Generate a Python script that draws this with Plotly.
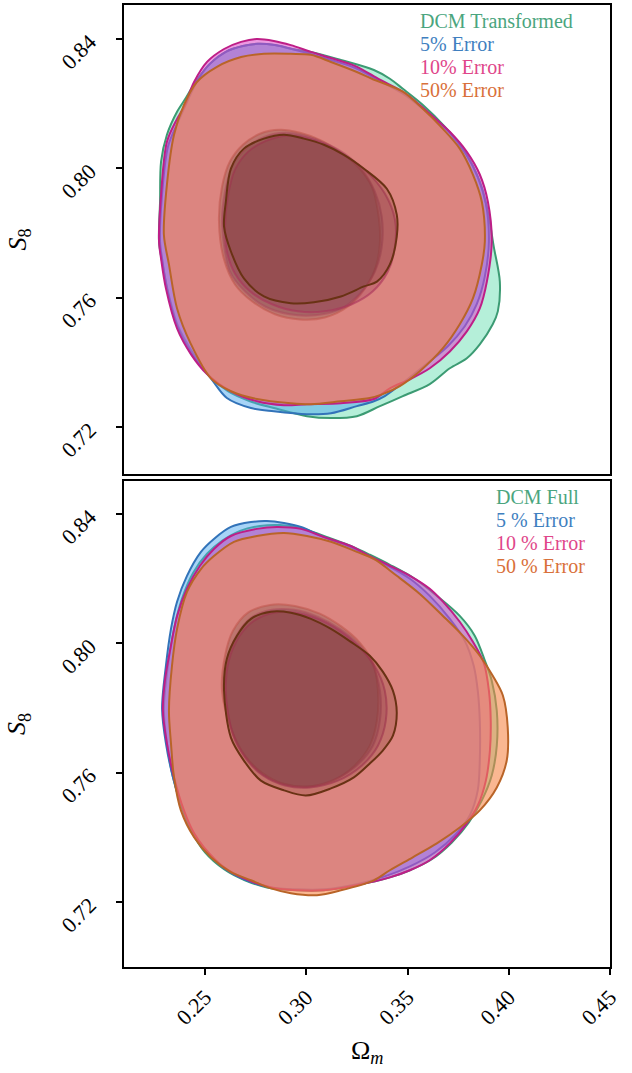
import plotly.graph_objects as go

# ---------------- axis ticks ----------------
om_ticks = [0.25, 0.30, 0.35, 0.40, 0.45]
om_ticklabels = ["0.25", "0.30", "0.35", "0.40", "0.45"]
s8_ticks = [0.72, 0.76, 0.80, 0.84]
s8_ticklabels = ["0.72", "0.76", "0.80", "0.84"]

# ---------------- legend labels ----------------
top_labels = ["DCM Transformed", "5% Error", "10% Error", "50% Error"]
bottom_labels = ["DCM Full", "5 % Error", "10 % Error", "50 % Error"]

# ================= TOP PANEL (DCM Transformed) =================
# outer (95%) contours
top_green_outer_om = [0.2273, 0.2278, 0.2283, 0.2312, 0.2362, 0.2406, 0.2460, 0.2524, 0.2603, 0.2687, 0.2761, 0.2845,
                      0.2929, 0.3023, 0.3171, 0.3334, 0.3413, 0.3477, 0.3576, 0.3684, 0.3783, 0.3857, 0.3897, 0.3926,
                      0.3956, 0.3946, 0.3921, 0.3857, 0.3793, 0.3709, 0.3610, 0.3477, 0.3364, 0.3250, 0.3122, 0.3003,
                      0.2840, 0.2722, 0.2613, 0.2524, 0.2441, 0.2367, 0.2317, 0.2288]
top_green_outer_s8 = [0.7774, 0.7897, 0.8021, 0.8104, 0.8175, 0.8218, 0.8274, 0.8323, 0.8360, 0.8378, 0.8385, 0.8381,
                      0.8369, 0.8360, 0.8335, 0.8304, 0.8277, 0.8246, 0.8196, 0.8129, 0.8051, 0.7959, 0.7866, 0.7758,
                      0.7650, 0.7558, 0.7518, 0.7456, 0.7413, 0.7382, 0.7333, 0.7296, 0.7265, 0.7234, 0.7228, 0.7234,
                      0.7259, 0.7280, 0.7311, 0.7357, 0.7428, 0.7512, 0.7620, 0.7712]

top_blue_outer_om = [0.2278, 0.2288, 0.2317, 0.2367, 0.2416, 0.2465, 0.2524, 0.2603, 0.2687, 0.2761, 0.2845, 0.2929,
                     0.3023, 0.3122, 0.3240, 0.3364, 0.3487, 0.3610, 0.3709, 0.3788, 0.3847, 0.3887, 0.3902, 0.3882,
                     0.3842, 0.3783, 0.3699, 0.3600, 0.3487, 0.3388, 0.3334, 0.3250, 0.3122, 0.3003, 0.2840, 0.2727,
                     0.2608, 0.2529, 0.2431, 0.2362, 0.2312, 0.2288]
top_blue_outer_s8 = [0.7774, 0.7919, 0.8067, 0.8144, 0.8212, 0.8274, 0.8323, 0.8360, 0.8378, 0.8385, 0.8381, 0.8369,
                     0.8354, 0.8335, 0.8311, 0.8270, 0.8227, 0.8166, 0.8110, 0.8045, 0.7974, 0.7891, 0.7774, 0.7666,
                     0.7580, 0.7512, 0.7450, 0.7398, 0.7342, 0.7296, 0.7280, 0.7265, 0.7243, 0.7240, 0.7249, 0.7259,
                     0.7290, 0.7351, 0.7428, 0.7512, 0.7629, 0.7721]

top_magenta_outer_om = [0.2273, 0.2283, 0.2312, 0.2362, 0.2396, 0.2446, 0.2510, 0.2594, 0.2678, 0.2756, 0.2840, 0.2924,
                        0.3023, 0.3122, 0.3240, 0.3364, 0.3487, 0.3610, 0.3709, 0.3793, 0.3857, 0.3897, 0.3916, 0.3892,
                        0.3857, 0.3793, 0.3709, 0.3610, 0.3512, 0.3413, 0.3334, 0.3171, 0.3003, 0.2890, 0.2756, 0.2628,
                        0.2510, 0.2431, 0.2362, 0.2307, 0.2283]
top_magenta_outer_s8 = [0.7774, 0.7919, 0.8082, 0.8153, 0.8190, 0.8267, 0.8329, 0.8369, 0.8391, 0.8400, 0.8394, 0.8381,
                        0.8360, 0.8341, 0.8317, 0.8274, 0.8233, 0.8169, 0.8113, 0.8051, 0.7981, 0.7897, 0.7774, 0.7650,
                        0.7567, 0.7496, 0.7434, 0.7382, 0.7348, 0.7320, 0.7287, 0.7274, 0.7271, 0.7268, 0.7280, 0.7311,
                        0.7364, 0.7425, 0.7505, 0.7629, 0.7721]

top_orange_outer_om = [0.2297, 0.2312, 0.2347, 0.2396, 0.2460, 0.2559, 0.2678, 0.2791, 0.2924, 0.3023, 0.3122, 0.3250,
                       0.3324, 0.3477, 0.3576, 0.3675, 0.3758, 0.3823, 0.3867, 0.3882, 0.3867, 0.3823, 0.3758, 0.3675,
                       0.3561, 0.3462, 0.3378, 0.3314, 0.3171, 0.3023, 0.2924, 0.2756, 0.2628, 0.2529, 0.2431, 0.2362,
                       0.2322]
top_orange_outer_s8 = [0.7795, 0.7950, 0.8104, 0.8196, 0.8267, 0.8314, 0.8344, 0.8354, 0.8354, 0.8351, 0.8329, 0.8298,
                       0.8277, 0.8237, 0.8184, 0.8122, 0.8061, 0.7981, 0.7897, 0.7774, 0.7703, 0.7598, 0.7518, 0.7444,
                       0.7373, 0.7327, 0.7302, 0.7290, 0.7280, 0.7271, 0.7274, 0.7287, 0.7311, 0.7351, 0.7456, 0.7567,
                       0.7703]

# inner (68%) contours
top_green_inner_om = [0.2569, 0.2584, 0.2623, 0.2687, 0.2771, 0.2870, 0.2969, 0.3067, 0.3166, 0.3255, 0.3324, 0.3354,
                      0.3364, 0.3344, 0.3290, 0.3206, 0.3092, 0.2969, 0.2845, 0.2732, 0.2648, 0.2594]
top_green_inner_s8 = [0.7836, 0.7943, 0.8021, 0.8073, 0.8107, 0.8119, 0.8110, 0.8088, 0.8051, 0.8005, 0.7943, 0.7866,
                      0.7774, 0.7697, 0.7629, 0.7573, 0.7539, 0.7533, 0.7549, 0.7589, 0.7641, 0.7718]

top_blue_inner_om = [0.2584, 0.2599, 0.2638, 0.2707, 0.2796, 0.2895, 0.2993, 0.3092, 0.3191, 0.3275, 0.3339, 0.3373,
                     0.3373, 0.3339, 0.3265, 0.3166, 0.3043, 0.2919, 0.2796, 0.2697, 0.2623]
top_blue_inner_s8 = [0.7829, 0.7928, 0.8011, 0.8064, 0.8098, 0.8110, 0.8101, 0.8079, 0.8045, 0.7996, 0.7928, 0.7851,
                     0.7758, 0.7681, 0.7613, 0.7564, 0.7546, 0.7549, 0.7573, 0.7620, 0.7681]

top_magenta_inner_om = [0.2599, 0.2613, 0.2648, 0.2712, 0.2801, 0.2900, 0.2998, 0.3097, 0.3201, 0.3299, 0.3388, 0.3438,
                        0.3438, 0.3403, 0.3329, 0.3225, 0.3092, 0.2959, 0.2831, 0.2722, 0.2648, 0.2608]
top_magenta_inner_s8 = [0.7820, 0.7913, 0.7996, 0.8051, 0.8085, 0.8101, 0.8095, 0.8073, 0.8036, 0.7990, 0.7922, 0.7842,
                        0.7758, 0.7681, 0.7620, 0.7580, 0.7558, 0.7558, 0.7580, 0.7620, 0.7675, 0.7743]

top_orange_inner_om = [0.2594, 0.2603, 0.2628, 0.2692, 0.2791, 0.2890, 0.2988, 0.3087, 0.3186, 0.3285, 0.3398, 0.3447,
                       0.3447, 0.3413, 0.3349, 0.3285, 0.3171, 0.3038, 0.2924, 0.2791, 0.2692, 0.2628]
top_orange_inner_s8 = [0.7820, 0.7897, 0.7999, 0.8061, 0.8092, 0.8104, 0.8092, 0.8073, 0.8042, 0.7999, 0.7937, 0.7857,
                       0.7789, 0.7703, 0.7650, 0.7635, 0.7604, 0.7586, 0.7583, 0.7604, 0.7660, 0.7743]

# ================= BOTTOM PANEL (DCM Full) =================
bot_green_outer_om = [0.2297, 0.2312, 0.2342, 0.2391, 0.2436, 0.2500, 0.2594, 0.2697, 0.2806, 0.2954, 0.3087, 0.3250,
                      0.3413, 0.3512, 0.3620, 0.3719, 0.3803, 0.3867, 0.3916, 0.3941, 0.3941, 0.3916, 0.3882, 0.3832,
                      0.3758, 0.3645, 0.3536, 0.3413, 0.3314, 0.3220, 0.3087, 0.2974, 0.2870, 0.2771, 0.2673, 0.2584,
                      0.2510, 0.2441, 0.2386, 0.2347, 0.2317]
bot_green_outer_s8 = [0.7799, 0.7691, 0.7586, 0.7484, 0.7416, 0.7354, 0.7302, 0.7268, 0.7246, 0.7237, 0.7237, 0.7253,
                      0.7277, 0.7299, 0.7333, 0.7385, 0.7447, 0.7515, 0.7592, 0.7684, 0.7792, 0.7885, 0.7947, 0.8024,
                      0.8085, 0.8147, 0.8200, 0.8243, 0.8274, 0.8301, 0.8332, 0.8357, 0.8366, 0.8363, 0.8348, 0.8317,
                      0.8277, 0.8218, 0.8138, 0.8045, 0.7931]

bot_blue_outer_om = [0.2288, 0.2307, 0.2342, 0.2391, 0.2441, 0.2500, 0.2594, 0.2692, 0.2826, 0.2954, 0.3087, 0.3250,
                     0.3388, 0.3512, 0.3635, 0.3734, 0.3808, 0.3847, 0.3857, 0.3857, 0.3847, 0.3827, 0.3783, 0.3709,
                     0.3610, 0.3512, 0.3413, 0.3314, 0.3220, 0.3087, 0.2974, 0.2890, 0.2806, 0.2727, 0.2628, 0.2544,
                     0.2480, 0.2411, 0.2362, 0.2332, 0.2307]
bot_blue_outer_s8 = [0.7799, 0.7691, 0.7586, 0.7484, 0.7413, 0.7361, 0.7305, 0.7271, 0.7246, 0.7240, 0.7240, 0.7256,
                     0.7280, 0.7311, 0.7354, 0.7407, 0.7469, 0.7546, 0.7638, 0.7762, 0.7854, 0.7931, 0.8008, 0.8076,
                     0.8147, 0.8200, 0.8237, 0.8267, 0.8298, 0.8329, 0.8360, 0.8372, 0.8378, 0.8375, 0.8360, 0.8323,
                     0.8283, 0.8209, 0.8129, 0.8045, 0.7931]

bot_magenta_outer_om = [0.2292, 0.2312, 0.2347, 0.2396, 0.2446, 0.2495, 0.2594, 0.2692, 0.2826, 0.2954, 0.3087, 0.3250,
                        0.3413, 0.3512, 0.3610, 0.3709, 0.3793, 0.3847, 0.3887, 0.3907, 0.3911, 0.3902, 0.3877, 0.3823,
                        0.3758, 0.3675, 0.3610, 0.3512, 0.3413, 0.3314, 0.3220, 0.3087, 0.2974, 0.2855, 0.2756, 0.2628,
                        0.2544, 0.2475, 0.2411, 0.2362, 0.2327, 0.2302]
bot_magenta_outer_s8 = [0.7792, 0.7691, 0.7586, 0.7484, 0.7413, 0.7370, 0.7308, 0.7274, 0.7246, 0.7237, 0.7237, 0.7253,
                        0.7277, 0.7299, 0.7330, 0.7382, 0.7444, 0.7499, 0.7576, 0.7669, 0.7762, 0.7854, 0.7940, 0.8005,
                        0.8067, 0.8129, 0.8169, 0.8209, 0.8240, 0.8270, 0.8301, 0.8329, 0.8354, 0.8360, 0.8354, 0.8332,
                        0.8292, 0.8240, 0.8169, 0.8085, 0.7977, 0.7885]

bot_orange_outer_om = [0.2322, 0.2332, 0.2347, 0.2381, 0.2446, 0.2529, 0.2628, 0.2727, 0.2826, 0.2924, 0.3053, 0.3171,
                       0.3334, 0.3413, 0.3526, 0.3645, 0.3758, 0.3857, 0.3941, 0.3990, 0.3995, 0.3971, 0.3921, 0.3857,
                       0.3773, 0.3675, 0.3561, 0.3447, 0.3334, 0.3250, 0.3122, 0.3003, 0.2890, 0.2756, 0.2643, 0.2544,
                       0.2480, 0.2411, 0.2362, 0.2337]
bot_orange_outer_s8 = [0.7792, 0.7691, 0.7586, 0.7484, 0.7401, 0.7339, 0.7293, 0.7268, 0.7243, 0.7228, 0.7222, 0.7237,
                       0.7268, 0.7299, 0.7339, 0.7382, 0.7431, 0.7484, 0.7555, 0.7638, 0.7740, 0.7839, 0.7900, 0.7962,
                       0.8024, 0.8085, 0.8153, 0.8209, 0.8261, 0.8283, 0.8314, 0.8332, 0.8341, 0.8332, 0.8314, 0.8270,
                       0.8230, 0.8159, 0.8045, 0.7931]

bot_green_inner_om = [0.2584, 0.2599, 0.2638, 0.2712, 0.2821, 0.2944, 0.3067, 0.3176, 0.3265, 0.3329, 0.3354, 0.3349,
                      0.3314, 0.3240, 0.3132, 0.3008, 0.2885, 0.2781, 0.2697, 0.2633]
bot_green_inner_s8 = [0.7854, 0.7962, 0.8039, 0.8095, 0.8119, 0.8116, 0.8092, 0.8051, 0.8002, 0.7940, 0.7854, 0.7762,
                      0.7684, 0.7623, 0.7576, 0.7558, 0.7567, 0.7601, 0.7654, 0.7731]

bot_blue_inner_om = [0.2599, 0.2613, 0.2658, 0.2727, 0.2831, 0.2939, 0.3058, 0.3166, 0.3255, 0.3324, 0.3364, 0.3364,
                     0.3329, 0.3250, 0.3141, 0.3018, 0.2895, 0.2786, 0.2702, 0.2638]
bot_blue_inner_s8 = [0.7854, 0.7953, 0.8027, 0.8079, 0.8104, 0.8104, 0.8082, 0.8045, 0.7999, 0.7940, 0.7854, 0.7762,
                     0.7684, 0.7623, 0.7580, 0.7558, 0.7564, 0.7595, 0.7647, 0.7721]

bot_magenta_inner_om = [0.2603, 0.2618, 0.2668, 0.2742, 0.2840, 0.2949, 0.3058, 0.3166, 0.3255, 0.3334, 0.3388, 0.3393,
                        0.3354, 0.3275, 0.3156, 0.3018, 0.2895, 0.2786, 0.2702, 0.2638]
bot_magenta_inner_s8 = [0.7848, 0.7947, 0.8021, 0.8070, 0.8095, 0.8095, 0.8076, 0.8039, 0.7993, 0.7934, 0.7854, 0.7762,
                        0.7684, 0.7623, 0.7576, 0.7555, 0.7561, 0.7592, 0.7644, 0.7718]

bot_orange_inner_om = [0.2594, 0.2608, 0.2658, 0.2727, 0.2826, 0.2924, 0.3023, 0.3122, 0.3220, 0.3314, 0.3378, 0.3428,
                       0.3447, 0.3428, 0.3378, 0.3314, 0.3235, 0.3122, 0.2998, 0.2890, 0.2776, 0.2692, 0.2628]
bot_orange_inner_s8 = [0.7854, 0.7953, 0.8024, 0.8076, 0.8098, 0.8095, 0.8076, 0.8045, 0.8005, 0.7962, 0.7913, 0.7854,
                       0.7786, 0.7715, 0.7669, 0.7629, 0.7586, 0.7552, 0.7530, 0.7546, 0.7576, 0.7638, 0.7709]

# ---------------- styles ----------------
text_colors = ["#4aa57e", "#3f7fbf", "#e0468a", "#d9703a"]
outer_fill = ["rgba(90,220,170,0.45)", "rgba(80,170,240,0.5)", "rgba(220,70,200,0.55)", "rgba(247,135,71,0.6)"]
outer_line = ["rgb(60,155,115)", "rgb(50,115,185)", "rgb(190,30,135)", "rgb(185,100,40)"]
inner_fill = ["rgba(100,70,55,0.25)", "rgba(100,55,75,0.25)", "rgba(140,45,80,0.25)", "rgba(120,55,40,0.25)"]
inner_line = ["rgba(190,80,70,0.5)", "rgba(170,70,90,0.5)", "rgba(170,50,90,0.6)", "rgb(105,50,20)"]

FONT = "Liberation Serif"

fig = go.Figure()


def closed(a):
    return list(a) + [a[0]]


def add_contour(om, s8, fill, line, xa, ya):
    fig.add_trace(go.Scatter(
        x=closed(om), y=closed(s8), mode="lines", fill="toself", fillcolor=fill,
        line=dict(color=line, width=2, shape="spline", smoothing=0.9),
        xaxis=xa, yaxis=ya, hoverinfo="skip", showlegend=False))


panels = [
    ("x", "y",
     [(top_green_outer_om, top_green_outer_s8), (top_blue_outer_om, top_blue_outer_s8),
      (top_magenta_outer_om, top_magenta_outer_s8), (top_orange_outer_om, top_orange_outer_s8)],
     [(top_green_inner_om, top_green_inner_s8), (top_blue_inner_om, top_blue_inner_s8),
      (top_magenta_inner_om, top_magenta_inner_s8), (top_orange_inner_om, top_orange_inner_s8)]),
    ("x2", "y2",
     [(bot_green_outer_om, bot_green_outer_s8), (bot_blue_outer_om, bot_blue_outer_s8),
      (bot_magenta_outer_om, bot_magenta_outer_s8), (bot_orange_outer_om, bot_orange_outer_s8)],
     [(bot_green_inner_om, bot_green_inner_s8), (bot_blue_inner_om, bot_blue_inner_s8),
      (bot_magenta_inner_om, bot_magenta_inner_s8), (bot_orange_inner_om, bot_orange_inner_s8)]),
]

for xa, ya, outers, inners in panels:
    for i, (om, s8) in enumerate(outers):
        add_contour(om, s8, outer_fill[i], outer_line[i], xa, ya)
    for i, (om, s8) in enumerate(inners):
        add_contour(om, s8, inner_fill[i], inner_line[i], xa, ya)

axis_common = dict(showline=True, linecolor="black", linewidth=1.5, mirror=True, showgrid=False,
                   zeroline=False, tickfont=dict(family=FONT, size=22, color="black"))
ytick = dict(tickvals=s8_ticks, ticktext=s8_ticklabels, tickangle=-45, ticks="outside",
             ticklen=6, tickwidth=1.5, tickcolor="black", ticklabelstandoff=22)

fig.update_layout(
    width=632, height=1073,
    margin=dict(l=124, r=22, t=3, b=106),
    plot_bgcolor="white", paper_bgcolor="white",
    showlegend=False,
    xaxis=dict(domain=[0, 1], anchor="y", range=[0.21, 0.45], matches="x2",
               showticklabels=False, ticks="", **axis_common),
    yaxis=dict(domain=[0.5124, 1], anchor="x", range=[0.7055, 0.8505], **ytick, **axis_common),
    xaxis2=dict(domain=[0, 1], anchor="y2", range=[0.21, 0.45],
                tickvals=om_ticks, ticktext=om_ticklabels, tickangle=-45,
                ticks="outside", ticklen=6, tickwidth=1.5, tickcolor="black",
                ticklabelstandoff=1, **axis_common),
    yaxis2=dict(domain=[0, 0.5052], anchor="x2", range=[0.70, 0.8502], **ytick, **axis_common),
)

annotations = []
top_y = [0.9834, 0.9595, 0.9357, 0.9118]
bot_y = [0.4886, 0.4647, 0.4409, 0.4170]
for i in range(4):
    annotations.append(dict(x=0.6049, y=top_y[i], xref="paper", yref="paper", text=top_labels[i],
                            showarrow=False, xanchor="left", yanchor="middle",
                            font=dict(family=FONT, size=20, color=text_colors[i])))
    annotations.append(dict(x=0.7613, y=bot_y[i], xref="paper", yref="paper", text=bottom_labels[i],
                            showarrow=False, xanchor="left", yanchor="middle",
                            font=dict(family=FONT, size=20, color=text_colors[i])))

for yc in [0.7562, 0.2526]:
    annotations.append(dict(x=-0.218, y=yc, xref="paper", yref="paper", text="<i>S</i><sub>8</sub>",
                            showarrow=False, textangle=-90, xanchor="center", yanchor="middle",
                            font=dict(family=FONT, size=26, color="black")))
annotations.append(dict(x=0.5, y=-0.0882, xref="paper", yref="paper", text="Ω<sub><i>m</i></sub>",
                        showarrow=False, xanchor="center", yanchor="middle",
                        font=dict(family=FONT, size=26, color="black")))
fig.update_layout(annotations=annotations)

fig.write_html("out.html", config={"displayModeBar": False},
               post_script="document.body.style.margin='0';")
